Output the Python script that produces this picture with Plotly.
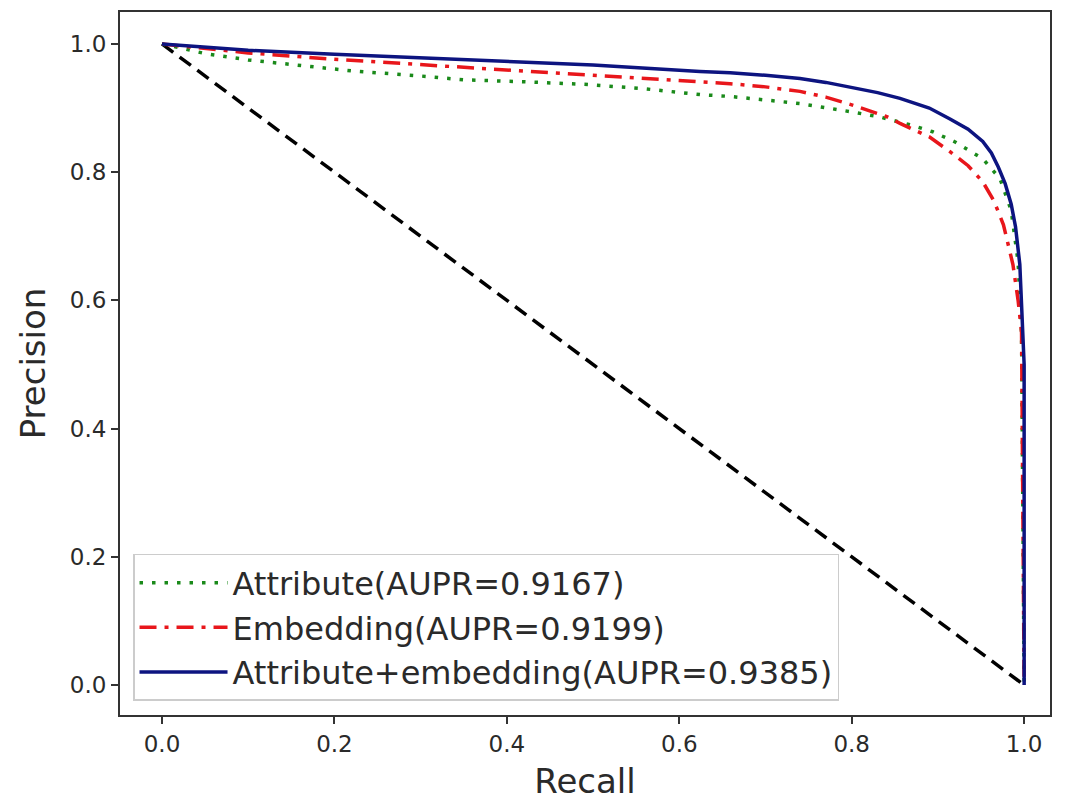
import plotly.graph_objects as go

# Precision-recall curves
attr_recall = [0.0, 0.05, 0.10, 0.16, 0.22, 0.30, 0.35, 0.42, 0.49, 0.56, 0.624, 0.66, 0.74, 0.80, 0.833,
               0.87, 0.894, 0.92, 0.952, 0.972, 0.985, 0.993, 0.997, 1.0]
attr_precision = [1.0, 0.985, 0.975, 0.966, 0.958, 0.950, 0.944, 0.941, 0.937, 0.930, 0.921, 0.918, 0.907,
                  0.894, 0.886, 0.873, 0.863, 0.847, 0.821, 0.790, 0.740, 0.660, 0.550, 0.0]

emb_recall = [0.0, 0.10, 0.20, 0.311, 0.40, 0.50, 0.624, 0.659, 0.70, 0.74, 0.77, 0.80, 0.84, 0.856, 0.89,
              0.914, 0.935, 0.952, 0.965, 0.976, 0.987, 0.993, 0.997, 1.0]
emb_precision = [1.0, 0.986, 0.976, 0.967, 0.960, 0.952, 0.941, 0.938, 0.933, 0.926, 0.917, 0.905, 0.887,
                 0.876, 0.855, 0.832, 0.810, 0.785, 0.755, 0.718, 0.656, 0.600, 0.550, 0.0]

both_recall = [0.0, 0.10, 0.20, 0.311, 0.40, 0.50, 0.624, 0.659, 0.70, 0.74, 0.77, 0.80, 0.83, 0.856, 0.89,
               0.914, 0.935, 0.952, 0.962, 0.970, 0.978, 0.985, 0.990, 0.995, 0.998, 1.0, 1.0]
both_precision = [1.0, 0.990, 0.984, 0.978, 0.973, 0.967, 0.957, 0.955, 0.951, 0.946, 0.940, 0.932, 0.924,
                  0.915, 0.900, 0.883, 0.867, 0.848, 0.830, 0.808, 0.782, 0.750, 0.715, 0.656, 0.560, 0.500, 0.0]

diag_recall = [0.0, 1.0]
diag_precision = [1.0, 0.0]

names = ["Attribute(AUPR=0.9167)", "Embedding(AUPR=0.9199)", "Attribute+embedding(AUPR=0.9385)"]
tick_vals = [0.0, 0.2, 0.4, 0.6, 0.8, 1.0]
tick_text = ["0.0", "0.2", "0.4", "0.6", "0.8", "1.0"]

FONT = "DejaVu Sans"

fig = go.Figure()
fig.add_trace(go.Scatter(x=diag_recall, y=diag_precision, mode="lines", showlegend=False,
                         line=dict(color="black", width=3.5, dash="14px,8px")))
fig.add_trace(go.Scatter(x=attr_recall, y=attr_precision, mode="lines", name=names[0],
                         line=dict(color="#1a8a1a", width=3.5, dash="3.5px,9px")))
fig.add_trace(go.Scatter(x=emb_recall, y=emb_precision, mode="lines", name=names[1],
                         line=dict(color="#e8161b", width=3.5, dash="17px,8px,4px,8px")))
fig.add_trace(go.Scatter(x=both_recall, y=both_precision, mode="lines", name=names[2],
                         line=dict(color="#0d1480", width=3.5)))

axis_common = dict(showgrid=False, zeroline=False, showline=True, linecolor="#333333", linewidth=2,
                   mirror=True, ticks="outside", ticklen=7, tickwidth=1.5, tickcolor="#333333",
                   tickvals=tick_vals, ticktext=tick_text,
                   tickfont=dict(family=FONT, size=23, color="#2a2a2a"))

fig.update_layout(
    width=1067, height=804,
    margin=dict(l=120, r=17, t=10, b=89),
    paper_bgcolor="white", plot_bgcolor="white",
    xaxis=dict(range=[-0.0487, 1.030], title=dict(text="Recall", font=dict(family=FONT, size=34, color="#2a2a2a"),
                                                   standoff=14), **axis_common),
    yaxis=dict(range=[-0.0467, 1.0498], title=dict(text="Precision", font=dict(family=FONT, size=34, color="#2a2a2a"),
                                                    standoff=14), **axis_common),
    legend=dict(x=0.014, y=0.02, xanchor="left", yanchor="bottom", bgcolor="white",
                bordercolor="#cccccc", borderwidth=1.5, itemwidth=88,
                font=dict(family=FONT, size=32, color="#2a2a2a"), tracegroupgap=4),
    showlegend=True,
)

fig.write_html("out.html")
